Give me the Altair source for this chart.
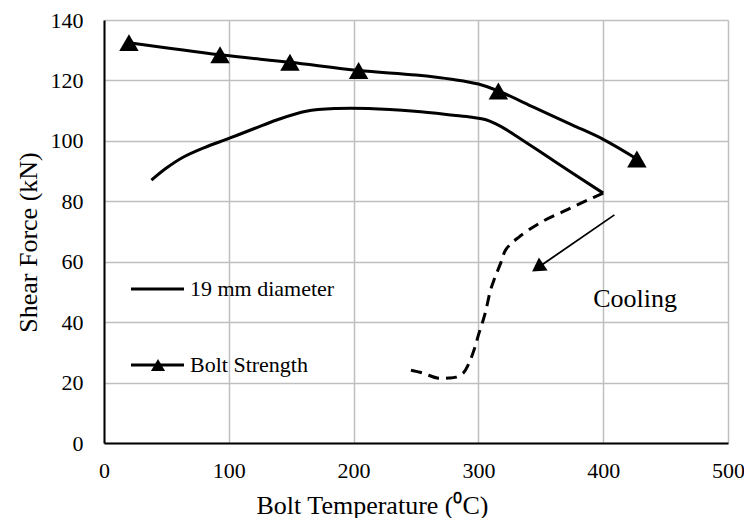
import altair as alt
import pandas as pd

# ---- data ----
temp_ticks = [0, 100, 200, 300, 400, 500]
force_ticks = [0, 20, 40, 60, 80, 100, 120, 140]

# Bolt strength (markers)
strength_temp = [20, 93, 149, 204, 316, 427]
strength_force = [132.5, 128.5, 126.0, 123.3, 116.5, 94.0]
# Bolt strength (line through markers)
strength_line_temp = [20, 93, 149, 204, 250, 280, 300, 316, 345, 375, 400, 427]
strength_line_force = [132.5, 128.5, 126.0, 123.3, 121.8, 120.3, 118.8, 116.5, 111.0, 105.3, 100.5, 94.0]

# 19 mm diameter, heating branch (solid)
heat_temp = [38, 50, 63, 80, 100, 120, 139, 162, 186, 212, 249, 280, 295, 306, 314, 322, 360, 400]
heat_force = [87.0, 91.0, 94.5, 97.7, 100.8, 104.0, 107.0, 109.8, 110.7, 110.7, 109.8, 108.5, 107.8, 107.0, 105.6, 103.8, 93.5, 82.7]

# 19 mm diameter, cooling branch (dashed)
cool_temp = [400, 388, 370, 350, 332, 322, 318, 313, 310, 305, 300, 297, 292, 288, 282, 276, 267, 255, 243]
cool_force = [82.7, 80.5, 77.0, 73.0, 68.0, 64.0, 59.7, 54.5, 51.0, 42.3, 35.7, 31.4, 26.0, 23.2, 21.8, 21.5, 21.5, 23.2, 24.3]

# Cooling arrow and label (data coordinates)
arrow_start = [409, 75.5]
arrow_head = [347.5, 58.0]
cooling_label = [392, 45.0]

FONT = "Liberation Serif"


def frame(t, f):
    return pd.DataFrame({"temp": t, "force": f, "idx": list(range(len(t)))})


x_enc = alt.X(
    "temp:Q",
    scale=alt.Scale(domain=[0, 500], nice=False),
    axis=alt.Axis(
        values=temp_ticks,
        title="Bolt Temperature (⁰C)",
        titleX=268,
        titleY=70,
        titleAlign="center",
        titleBaseline="alphabetic",
        labelPadding=17,
        labelFlush=False,
    ),
)
y_enc = alt.Y(
    "force:Q",
    scale=alt.Scale(domain=[0, 140], nice=False),
    axis=alt.Axis(
        values=force_ticks,
        title="Shear Force (kN)",
        titleAngle=270,
        titleX=-68,
        titleY=222,
        titleAlign="center",
        titleBaseline="alphabetic",
        labelPadding=21,
        labelFlush=False,
    ),
)

heat = alt.Chart(frame(heat_temp, heat_force)).mark_line(
    color="black", strokeWidth=3, interpolate="catmull-rom"
).encode(x=x_enc, y=y_enc, order="idx:Q")

cool = alt.Chart(frame(cool_temp, cool_force)).mark_line(
    color="black", strokeWidth=3, strokeDash=[11, 7], interpolate="catmull-rom"
).encode(x=x_enc, y=y_enc, order="idx:Q")

strength_line = alt.Chart(frame(strength_line_temp, strength_line_force)).mark_line(
    color="black", strokeWidth=3, interpolate="catmull-rom"
).encode(x=x_enc, y=y_enc, order="idx:Q")

strength_pts = alt.Chart(frame(strength_temp, strength_force)).mark_point(
    shape="triangle-up", filled=True, size=380, color="black", opacity=1
).encode(x=x_enc, y=y_enc)

arrow_df = pd.DataFrame({
    "temp": [arrow_start[0]], "force": [arrow_start[1]],
    "temp2": [arrow_head[0]], "force2": [arrow_head[1]],
})
arrow_line = alt.Chart(arrow_df).mark_rule(color="black", strokeWidth=1.8).encode(
    x=x_enc, y=y_enc, x2="temp2:Q", y2="force2:Q"
)
arrow_tip = alt.Chart(frame([arrow_head[0]], [arrow_head[1]])).mark_point(
    shape="triangle-up", filled=True, size=240, color="black", opacity=1, angle=236
).encode(x=x_enc, y=y_enc)

cooling_text = alt.Chart(frame([cooling_label[0]], [cooling_label[1]])).mark_text(
    text="Cooling", font=FONT, fontSize=26, align="left", baseline="alphabetic", color="black"
).encode(x=x_enc, y=y_enc)

# ---- manual legend (pixel positions inside the plot) ----
one = pd.DataFrame({"a": [0]})
leg_line1 = alt.Chart(one).mark_rule(color="black", strokeWidth=3).encode(
    x=alt.value(27), x2=alt.value(80), y=alt.value(269)
)
leg_text1 = alt.Chart(one).mark_text(
    text="19 mm diameter", font=FONT, fontSize=22, align="left", baseline="middle", color="black"
).encode(x=alt.value(86), y=alt.value(269))
leg_line2 = alt.Chart(one).mark_rule(color="black", strokeWidth=3).encode(
    x=alt.value(27), x2=alt.value(80), y=alt.value(345)
)
leg_tri = alt.Chart(one).mark_point(
    shape="triangle-up", filled=True, size=200, color="black", opacity=1
).encode(x=alt.value(54), y=alt.value(345))
leg_text2 = alt.Chart(one).mark_text(
    text="Bolt Strength", font=FONT, fontSize=22, align="left", baseline="middle", color="black"
).encode(x=alt.value(86), y=alt.value(345))

chart = alt.layer(
    heat, cool, strength_line, strength_pts, arrow_line, arrow_tip, cooling_text,
    leg_line1, leg_text1, leg_line2, leg_tri, leg_text2,
).properties(
    width=624,
    height=423,
    autosize=alt.AutoSizeParams(type="none"),
    padding={"left": 96, "top": 12, "right": 16, "bottom": 75},
).configure_view(
    stroke=None
).configure_axis(
    labelFont=FONT,
    labelFontSize=22,
    labelColor="black",
    titleFont=FONT,
    titleFontSize=26,
    titleFontWeight="normal",
    titleColor="black",
    grid=True,
    gridColor="#bfbfbf",
    gridWidth=1.5,
    domainColor="black",
    domainWidth=2,
    ticks=False,
    tickSize=0,
)

chart.save("out.html", embed_options={"renderer": "svg", "actions": False})
